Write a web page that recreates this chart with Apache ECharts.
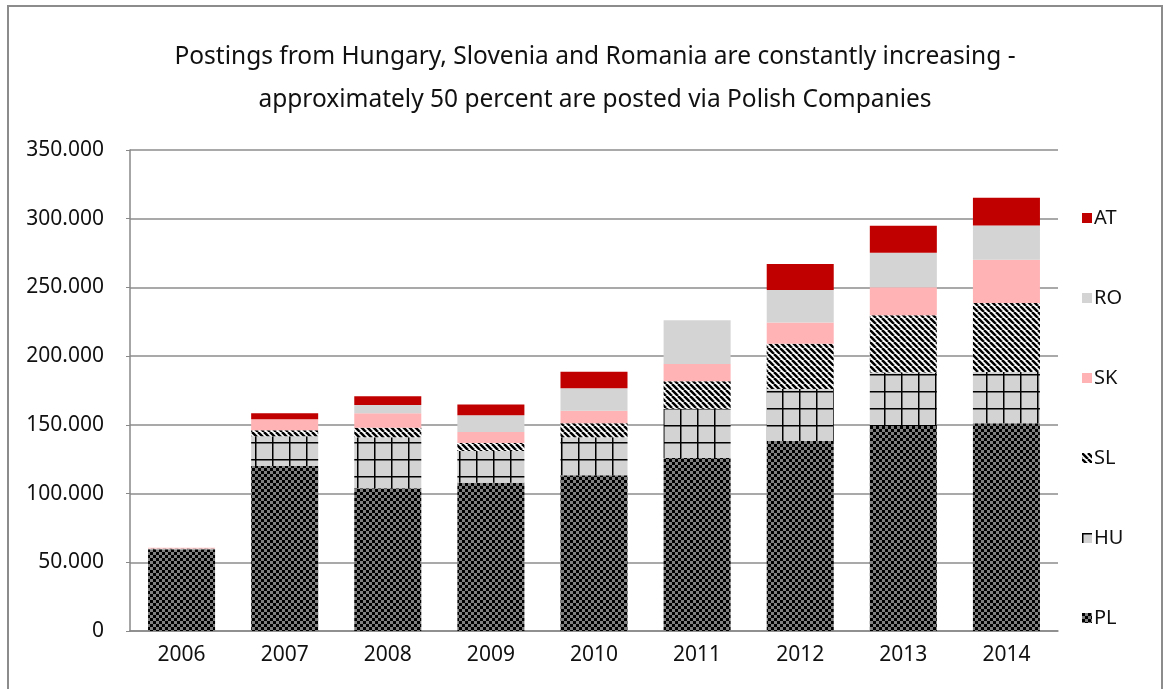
<!DOCTYPE html>
<html>
<head>
<meta charset="utf-8">
<title>Postings</title>
<script src="https://cdn.jsdelivr.net/npm/echarts@6/dist/echarts.min.js"></script>
<style>
  html, body { margin: 0; padding: 0; background: #fff; }
  #chart { width: 1165px; height: 689px; }
</style>
</head>
<body>
<div id="chart"></div>
<script>
// 연도
const years = ['2006', '2007', '2008', '2009', '2010', '2011', '2012', '2013', '2014'];

// 국가별 파견 건수 (아래에서 위로 쌓임)
const PL = [59500, 120000, 103800, 107900, 113300, 125900, 138300, 149200, 151100];
const HU = [300, 21800, 37100, 23100, 27700, 35900, 37800, 38900, 37300];
const SL = [200, 4200, 7000, 5800, 10200, 19900, 33000, 41700, 50200];
const SK = [600, 8000, 10500, 8000, 9000, 12600, 15300, 20400, 31500];
const RO = [0, 0, 6000, 12100, 16500, 31800, 23800, 25000, 25000];
const AT = [0, 4400, 6500, 8000, 11900, 0, 18900, 19600, 20100];

const legendOrder = ['AT', 'RO', 'SK', 'SL', 'HU', 'PL'];

// 패턴 채우기 헬퍼
const makePattern = (size, draw) => {
  const c = document.createElement('canvas');
  c.width = size;
  c.height = size;
  draw(c.getContext('2d'), size);
  return { image: c, repeat: 'repeat' };
};

const checkerPattern = makePattern(6, (ctx, s) => {
  ctx.fillStyle = '#808080';
  ctx.fillRect(0, 0, s, s);
  ctx.fillStyle = '#000';
  ctx.fillRect(0, 0, 3, 3);
  ctx.fillRect(3, 3, 3, 3);
});

const gridPattern = makePattern(17, (ctx, s) => {
  ctx.fillStyle = '#d3d3d3';
  ctx.fillRect(0, 0, s, s);
  ctx.fillStyle = '#000';
  ctx.fillRect(0, 0, s, 1.5);
  ctx.fillRect(0, 0, 1.5, s);
});

const stripePattern = makePattern(6, (ctx, s) => {
  ctx.fillStyle = '#fff';
  ctx.fillRect(0, 0, s, s);
  ctx.strokeStyle = '#000';
  ctx.lineWidth = 2.5;
  [-s, 0, s].forEach(k => {
    ctx.beginPath();
    ctx.moveTo(k, 0);
    ctx.lineTo(k + s, s);
    ctx.stroke();
  });
});

const fontFamily = '"Noto Sans", sans-serif';

const mkSeries = (name, data, color) => ({
  name,
  type: 'bar',
  stack: 'total',
  data,
  barCategoryGap: '35%',
  itemStyle: { color },
  emphasis: { disabled: true }
});

const chart = echarts.init(document.getElementById('chart'));

chart.setOption({
  animation: false,
  backgroundColor: '#fff',
  title: {
    text: 'Postings from Hungary, Slovenia and Romania are constantly increasing -\napproximately 50 percent are posted via Polish Companies',
    left: 590,
    top: 31,
    textAlign: 'center',
    textStyle: {
      fontFamily,
      fontWeight: 'normal',
      fontSize: 24.5,
      lineHeight: 43,
      color: '#111'
    }
  },
  legend: {
    data: legendOrder,
    orient: 'vertical',
    left: 1077,
    top: 203,
    itemWidth: 10,
    itemHeight: 10,
    itemGap: 60,
    icon: 'rect',
    textStyle: { fontFamily, fontSize: 20, lineHeight: 20, color: '#111', padding: [0, 0, 0, -3] }
  },
  grid: { left: 130, right: 107, top: 150, bottom: 58 },
  xAxis: {
    type: 'category',
    data: years,
    axisLine: { lineStyle: { color: '#888', width: 1.5 } },
    axisTick: { show: false },
    axisLabel: { fontFamily, fontSize: 21, color: '#111', margin: 14 }
  },
  yAxis: {
    type: 'value',
    min: 0,
    max: 350000,
    interval: 50000,
    axisLine: { show: true, lineStyle: { color: '#888', width: 1.5 } },
    axisTick: { show: true, length: 4, lineStyle: { color: '#888' } },
    splitLine: { lineStyle: { color: '#8c8c8c', width: 1.5 } },
    axisLabel: {
      fontFamily,
      fontSize: 21,
      color: '#111',
      margin: 26,
      formatter: v => (v === 0 ? '0' : (v / 1000) + '.000')
    }
  },
  graphic: [{
    type: 'rect',
    shape: { x: 8, y: 6, width: 1154, height: 700 },
    style: { fill: 'none', stroke: '#8c8c8c', lineWidth: 2 },
    silent: true
  }],
  series: [
    mkSeries('PL', PL, checkerPattern),
    mkSeries('HU', HU, gridPattern),
    mkSeries('SL', SL, stripePattern),
    mkSeries('SK', SK, '#ffb3b5'),
    mkSeries('RO', RO, '#d4d4d4'),
    mkSeries('AT', AT, '#c00000')
  ]
});
</script>
</body>
</html>
